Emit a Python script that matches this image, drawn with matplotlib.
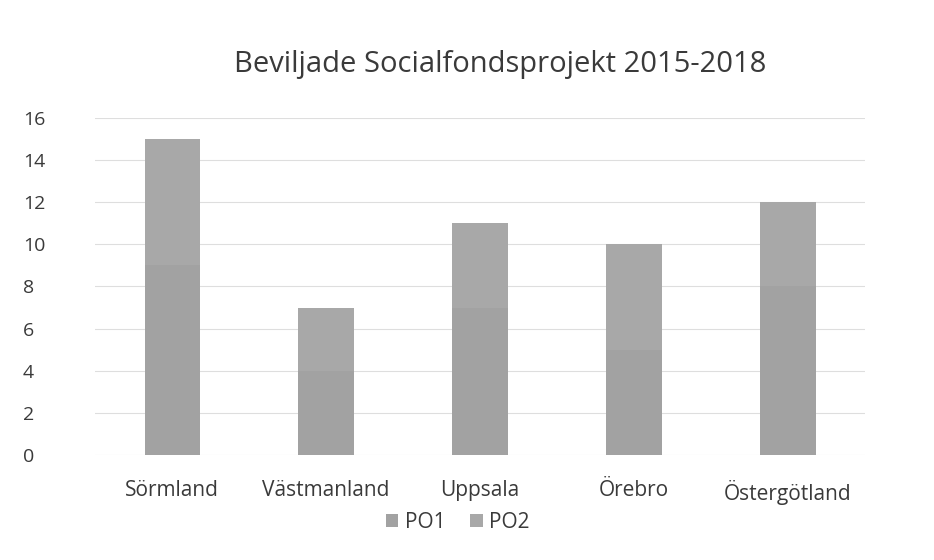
import numpy as np
import matplotlib
matplotlib.use("Agg")
import matplotlib.pyplot as plt

plt.rcParams['font.family'] = ['Open Sans', 'DejaVu Sans']

regions = ['Sörmland', 'Västmanland', 'Uppsala', 'Örebro', 'Östergötland']
po1 = [9, 4, 7, 5, 8]
po2 = [6, 3, 4, 5, 4]
yticks = [0, 2, 4, 6, 8, 10, 12, 14, 16]

fig = plt.figure(figsize=(9.34, 5.6), dpi=100)
ax = fig.add_axes([0.102, 0.1875, 0.824, 0.602])

x = np.arange(len(regions))
ax.bar(x, po1, width=0.36, color='#a2a2a2', label='PO1', zorder=3)
ax.bar(x, po2, width=0.36, bottom=po1, color='#a8a8a8', label='PO2', zorder=3)

ax.set_xlim(-0.5, len(regions) - 0.5)
ax.set_ylim(0, 16)
ax.set_yticks(yticks)
ax.set_xticks(x)
ax.set_xticklabels(regions)
ax.grid(axis='y', color='#dedede', linewidth=0.8, zorder=0)
for s in ax.spines.values():
    s.set_visible(False)
ax.tick_params(length=0, colors='#3a3a3a')
ax.tick_params(axis='x', labelsize=15, pad=18)
ax.tick_params(axis='y', labelsize=14, pad=52)
for lab in ax.get_yticklabels():
    lab.set_horizontalalignment('left')

fig.text(0.536, 0.885, 'Beviljade Socialfondsprojekt 2015-2018',
         ha='center', va='center', fontsize=21, color='#3a3a3a')
fig.legend(loc='center', bbox_to_anchor=(0.49, 0.067), ncol=2,
           frameon=False, fontsize=15, handlelength=0.6, handleheight=0.6,
           columnspacing=1.2, handletextpad=0.3, labelcolor='#3a3a3a')

fig.savefig('out.png', dpi=100, facecolor='white')
